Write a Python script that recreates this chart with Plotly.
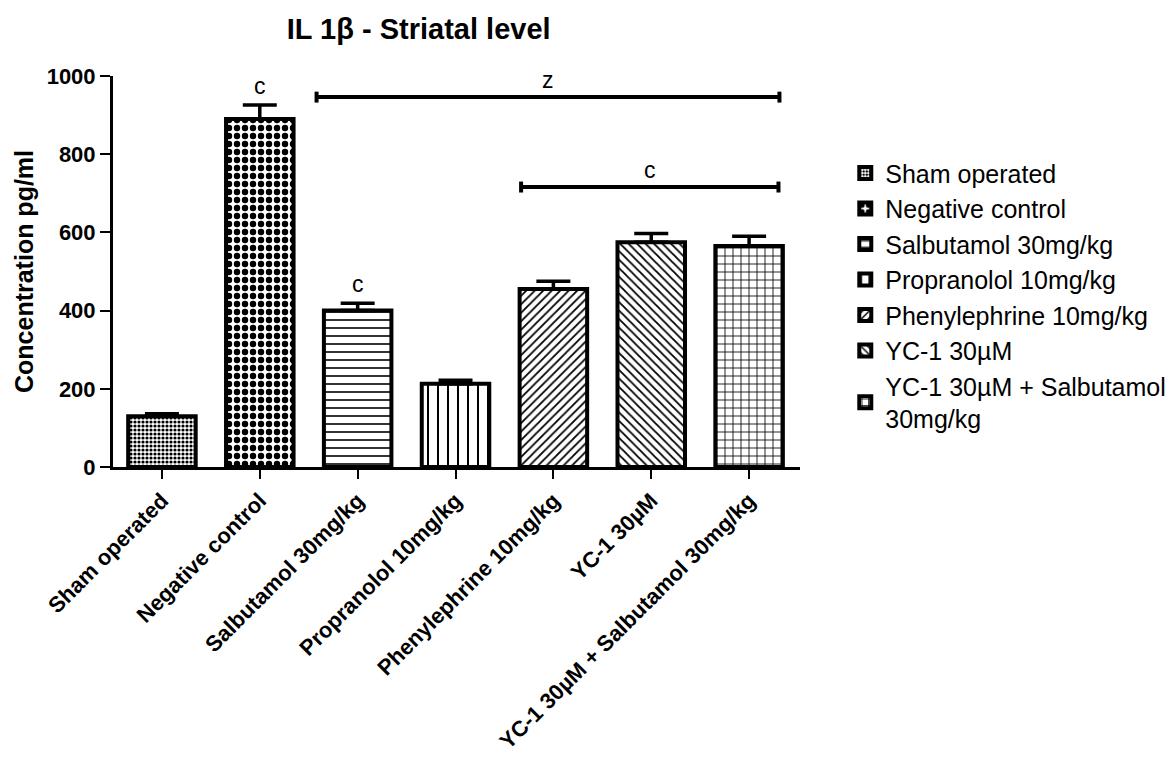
import plotly.graph_objects as go

categories = ["Sham operated", "Negative control", "Salbutamol 30mg/kg", "Propranolol 10mg/kg",
              "Phenylephrine 10mg/kg", "YC-1 30µM", "YC-1 30µM + Salbutamol 30mg/kg"]
legend_names = ["Sham operated", "Negative control", "Salbutamol 30mg/kg", "Propranolol 10mg/kg",
                "Phenylephrine 10mg/kg", "YC-1 30µM", "YC-1 30µM + Salbutamol<br>30mg/kg"]
means = [130, 890, 400, 213, 455, 575, 565]
sems = [6, 36, 19, 9, 20, 22, 25]
patterns = [".", ".", "-", "|", "/", "\\", "+"]
pat_sizes = [4, 8, 8, 10, 6, 6, 8]
pat_solid = [0.5, 0.5, 0.2, 0.2, 0.3, 0.3, 0.2]

# significance letters on bars: (category index, label)
bar_letters = [(1, "c"), (2, "c")]
# brackets: (start index, end index, y level, label)
brackets = [(2, 6, 946, "z"), (4, 6, 716, "c")]
bracket_left_pad = [0.42, 0.33]
bracket_right_pad = [0.31, 0.30]

FONT = "Liberation Sans, Arial, sans-serif"
fig = go.Figure()
for i, cat in enumerate(categories):
    fig.add_trace(go.Bar(
        x=[i], y=[means[i]], name=legend_names[i], width=0.69,
        marker=dict(color="white", line=dict(color="black", width=4),
                    pattern=dict(shape=patterns[i], size=pat_sizes[i], solidity=pat_solid[i],
                                 fgcolor="black", bgcolor="white", fillmode="replace")),
        error_y=dict(type="data", symmetric=False, array=[sems[i]], arrayminus=[0],
                     color="black", thickness=3.5, width=17),
    ))

for idx, lab in bar_letters:
    fig.add_annotation(x=idx, y=means[idx] + sems[idx], text=lab, showarrow=False,
                       yshift=19, font=dict(size=23, color="black", family=FONT))

for k, (s, e, yv, lab) in enumerate(brackets):
    x0, x1 = s - bracket_left_pad[k], e + bracket_right_pad[k]
    fig.add_shape(type="line", x0=x0, x1=x1, y0=yv, y1=yv, line=dict(color="black", width=4))
    for xx in (x0, x1):
        fig.add_shape(type="line", x0=xx, x1=xx, y0=yv - 14, y1=yv + 14, line=dict(color="black", width=4))
    fig.add_annotation(x=(x0 + x1) / 2, y=yv, text=lab, showarrow=False, yshift=17,
                       font=dict(size=23, color="black", family=FONT))

fig.update_layout(
    width=1174, height=764, plot_bgcolor="white", paper_bgcolor="white",
    margin=dict(l=113, r=374, t=76, b=297),
    font=dict(family=FONT, color="black"),
    title=dict(text="<b>IL 1β - Striatal level</b>", x=0.445, xref="paper", xanchor="center",
               y=0.962, yref="container", yanchor="middle", font=dict(size=29, family=FONT)),
    showlegend=True,
    legend=dict(x=0.72, xref="container", y=0.81, yref="paper", xanchor="left", yanchor="top",
                font=dict(size=25, family=FONT), tracegroupgap=0, itemwidth=30),
)
fig.update_xaxes(range=[-0.5, 6.52], tickmode="array", tickvals=list(range(len(categories))),
                 ticktext=["<b>%s</b>" % c for c in categories], tickangle=-45,
                 showline=True, linecolor="black", linewidth=3, ticks="outside", ticklen=9,
                 tickwidth=2, tickcolor="black", showgrid=False, zeroline=False, automargin=False,
                 tickfont=dict(size=22, family=FONT))
fig.update_yaxes(range=[0, 1000], tickvals=[0, 200, 400, 600, 800, 1000],
                 ticktext=["<b>%d</b>" % v for v in [0, 200, 400, 600, 800, 1000]],
                 showline=True, linecolor="black", linewidth=3, ticks="outside", ticklen=10,
                 tickwidth=2, tickcolor="black", showgrid=False, zeroline=False, automargin=False,
                 tickfont=dict(size=22, family=FONT),
                 title=dict(text="<b>Concentration pg/ml</b>", font=dict(size=25, family=FONT), standoff=6))

fig.write_html("out.html")
